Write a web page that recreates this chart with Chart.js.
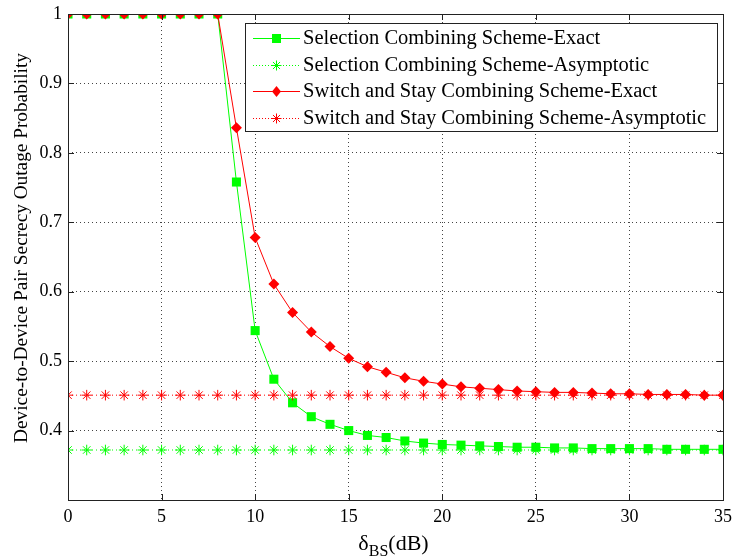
<!DOCTYPE html>
<html>
<head>
<meta charset="utf-8">
<script src="https://cdn.jsdelivr.net/npm/chart.js@4/dist/chart.umd.min.js"></script>
<style>
  html, body { margin: 0; padding: 0; background: #fff; }
  canvas { display: block; }
</style>
</head>
<body>
<canvas id="myChart" width="732" height="558"></canvas>
<script>
// x values (delta_BS in dB)
const xValues = [0, 1, 2, 3, 4, 5, 6, 7, 8, 9, 10, 11, 12, 13, 14, 15, 16, 17,
    18, 19, 20, 21, 22, 23, 24, 25, 26, 27, 28, 29, 30, 31, 32, 33, 34, 35];

const scExact = [1, 1, 1, 1, 1, 1, 1, 1, 1, 0.758, 0.544, 0.474, 0.440, 0.420, 0.409, 0.400,
    0.393, 0.390, 0.385, 0.382, 0.380, 0.379, 0.378, 0.377, 0.376, 0.376, 0.375, 0.375,
    0.374, 0.374, 0.374, 0.374, 0.373, 0.373, 0.373, 0.373];
const scAsym = [0.372, 0.372, 0.372, 0.372, 0.372, 0.372, 0.372, 0.372, 0.372, 0.372, 0.372, 0.372,
    0.372, 0.372, 0.372, 0.372, 0.372, 0.372, 0.372, 0.372, 0.372, 0.372, 0.372, 0.372,
    0.372, 0.372, 0.372, 0.372, 0.372, 0.372, 0.372, 0.372, 0.372, 0.372, 0.372, 0.372];
const sscExact = [1, 1, 1, 1, 1, 1, 1, 1, 1, 0.836, 0.678, 0.611, 0.570, 0.542, 0.521, 0.504,
    0.492, 0.484, 0.476, 0.471, 0.467, 0.463, 0.461, 0.459, 0.457, 0.456, 0.455, 0.455,
    0.454, 0.453, 0.453, 0.452, 0.452, 0.452, 0.451, 0.451];
const sscAsym = [0.451, 0.451, 0.451, 0.451, 0.451, 0.451, 0.451, 0.451, 0.451, 0.451, 0.451, 0.451,
    0.451, 0.451, 0.451, 0.451, 0.451, 0.451, 0.451, 0.451, 0.451, 0.451, 0.451, 0.451,
    0.451, 0.451, 0.451, 0.451, 0.451, 0.451, 0.451, 0.451, 0.451, 0.451, 0.451, 0.451];

const seriesNames = [
    'Selection Combining Scheme-Exact',
    'Selection Combining Scheme-Asymptotic',
    'Switch and Stay Combining Scheme-Exact',
    'Switch and Stay Combining Scheme-Asymptotic'
];

const GREEN = '#00ff00';
const RED = '#ff0000';
const FONT = "'Liberation Serif', 'Times New Roman', serif";

const ctx = document.getElementById('myChart').getContext('2d');

// draws a legend marker by hand
function drawMarker(c, style, x, y, color) {
    c.save();
    c.fillStyle = color;
    c.strokeStyle = color;
    c.lineWidth = 1;
    c.setLineDash([]);
    if (style === 'rect') {
        c.fillRect(x - 4.5, y - 4.5, 9, 9);
    } else if (style === 'rectRot') {
        c.beginPath();
        c.moveTo(x, y - 5.5);
        c.lineTo(x + 4.5, y);
        c.lineTo(x, y + 5.5);
        c.lineTo(x - 4.5, y);
        c.closePath();
        c.fill();
    } else if (style === 'star') {
        c.beginPath();
        for (let i = 0; i < 4; i++) {
            let a = i * Math.PI / 4;
            c.moveTo(x - Math.cos(a) * 5, y - Math.sin(a) * 5);
            c.lineTo(x + Math.cos(a) * 5, y + Math.sin(a) * 5);
        }
        c.stroke();
    }
    c.restore();
}

const matlabFrame = {
    id: 'matlabFrame',
    afterDraw(chart) {
        const c = chart.ctx;
        const a = chart.chartArea;
        const xs = chart.scales.x;
        const ys = chart.scales.y;

        c.save();
        c.strokeStyle = '#222';
        c.lineWidth = 1;
        c.setLineDash([]);
        c.strokeRect(Math.round(a.left) + 0.5, Math.round(a.top) + 0.5,
            Math.round(a.right - a.left), Math.round(a.bottom - a.top));

        // inward ticks on all four sides
        c.beginPath();
        xs.ticks.forEach(t => {
            let px = Math.round(xs.getPixelForValue(t.value)) + 0.5;
            c.moveTo(px, a.bottom); c.lineTo(px, a.bottom - 6);
            c.moveTo(px, a.top); c.lineTo(px, a.top + 6);
        });
        ys.ticks.forEach(t => {
            let py = Math.round(ys.getPixelForValue(t.value)) + 0.5;
            c.moveTo(a.left, py); c.lineTo(a.left + 6, py);
            c.moveTo(a.right, py); c.lineTo(a.right - 6, py);
        });
        c.stroke();

        // legend
        const lx = 245, ly = 23, lw = 472, lh = 108;
        c.fillStyle = '#fff';
        c.fillRect(lx, ly, lw, lh);
        c.strokeStyle = '#222';
        c.strokeRect(lx + 0.5, ly + 0.5, lw, lh);
        const styles = [
            { color: GREEN, dash: [], marker: 'rect' },
            { color: GREEN, dash: [1, 2], marker: 'star' },
            { color: RED, dash: [], marker: 'rectRot' },
            { color: RED, dash: [1, 2], marker: 'star' }
        ];
        c.font = '20.5px ' + FONT;
        c.textBaseline = 'middle';
        c.textAlign = 'left';
        styles.forEach((s, i) => {
            let yy = ly + 15 + i * 26.5;
            c.strokeStyle = s.color;
            c.setLineDash(s.dash);
            c.beginPath();
            c.moveTo(253, Math.round(yy) + 0.5);
            c.lineTo(300, Math.round(yy) + 0.5);
            c.stroke();
            drawMarker(c, s.marker, 276.5, Math.round(yy) + 0.5, s.color);
            c.fillStyle = '#000';
            c.fillText(seriesNames[i], 303, yy + 1);
        });

        // axis titles
        c.fillStyle = '#000';
        c.save();
        c.translate(22, 248);
        c.rotate(-Math.PI / 2);
        c.textAlign = 'center';
        c.font = '19.3px ' + FONT;
        c.fillText('Device-to-Device Pair Secrecy Outage Probability', 0, 0);
        c.restore();

        const big = '22px ' + FONT, small = '16px ' + FONT;
        c.textBaseline = 'alphabetic';
        c.font = big;
        let w1 = c.measureText('\u03B4').width;
        let w3 = c.measureText('(dB)').width;
        c.font = small;
        let w2 = c.measureText('BS').width;
        let x0 = 393.5 - (w1 + w2 + w3) / 2;
        let ty = 550;
        c.textAlign = 'left';
        c.font = big;
        c.fillText('\u03B4', x0, ty);
        c.font = small;
        c.fillText('BS', x0 + w1, ty + 6);
        c.font = big;
        c.fillText('(dB)', x0 + w1 + w2, ty);
        c.restore();
    }
};

const chart = new Chart(ctx, {
    type: 'line',
    data: {
        labels: xValues,
        datasets: [{
            label: seriesNames[0],
            data: scExact,
            borderColor: GREEN,
            backgroundColor: GREEN,
            borderWidth: 1,
            pointStyle: 'rect',
            pointRadius: 6.4,
            pointBorderWidth: 0,
            order: 2,
            fill: false
        }, {
            label: seriesNames[1],
            data: scAsym,
            borderColor: GREEN,
            backgroundColor: GREEN,
            borderWidth: 1,
            borderDash: [1, 3],
            pointStyle: 'star',
            pointRadius: 5.3,
            pointBorderWidth: 1,
            order: 3,
            fill: false
        }, {
            label: seriesNames[2],
            data: sscExact,
            borderColor: RED,
            backgroundColor: RED,
            borderWidth: 1,
            pointStyle: 'rectRot',
            pointRadius: 5.5,
            pointBorderWidth: 0,
            order: 0,
            fill: false
        }, {
            label: seriesNames[3],
            data: sscAsym,
            borderColor: RED,
            backgroundColor: RED,
            borderWidth: 1,
            borderDash: [1, 3],
            pointStyle: 'star',
            pointRadius: 5.3,
            pointBorderWidth: 1,
            order: 1,
            fill: false
        }]
    },
    options: {
        responsive: false,
        animation: false,
        layout: {
            padding: { left: 0, top: 14, right: 9, bottom: 0 }
        },
        plugins: {
            legend: { display: false },
            tooltip: { enabled: false }
        },
        scales: {
            x: {
                type: 'linear',
                min: 0,
                max: 35,
                ticks: {
                    stepSize: 5,
                    color: '#000',
                    font: { family: FONT, size: 18 },
                    padding: 6,
                    maxRotation: 0
                },
                grid: {
                    color: '#444',
                    lineWidth: 1,
                    drawTicks: false
                },
                border: { display: false, dash: [1, 3] },
                afterFit: scale => {
                    scale.height = 58;
                    scale.paddingLeft = 0;
                    scale.paddingRight = 0;
                }
            },
            y: {
                min: 0.3,
                max: 1,
                ticks: {
                    stepSize: 0.1,
                    color: '#000',
                    font: { family: FONT, size: 18 },
                    padding: 6,
                    callback: v => Math.abs(v - 0.3) < 1e-6 ? '' : String(+v.toFixed(1))
                },
                grid: {
                    color: '#444',
                    lineWidth: 1,
                    drawTicks: false
                },
                border: { display: false, dash: [1, 3] },
                afterFit: scale => {
                    scale.width = 68;
                    scale.paddingTop = 0;
                    scale.paddingBottom = 0;
                }
            }
        }
    },
    plugins: [matlabFrame]
});
</script>
</body>
</html>
